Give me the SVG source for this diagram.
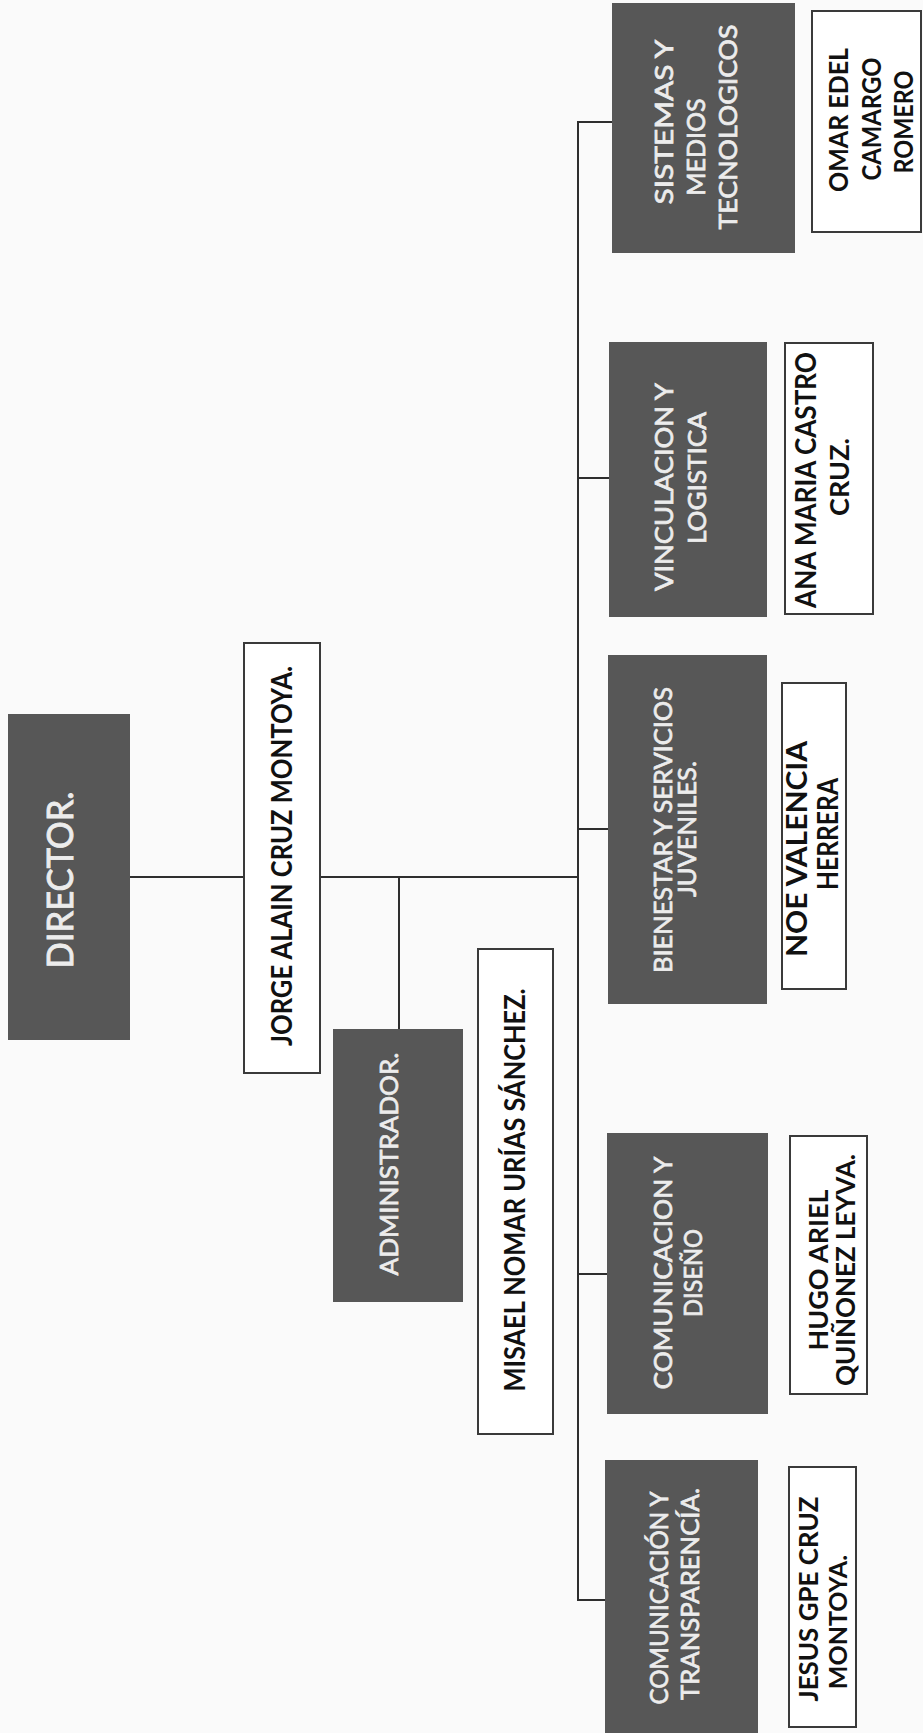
<svg xmlns="http://www.w3.org/2000/svg" width="923" height="1733" viewBox="0 0 923 1733">
<style>
.dark{fill:#575757;}
.white{fill:#ffffff;stroke:#3a3a3a;stroke-width:2;}
.con{fill:none;stroke:#2e2e2e;stroke-width:2;}
.lt{font-family:Lato,"Open Sans","DejaVu Sans",sans-serif;font-size:25px;fill:#ececec;stroke:#ececec;stroke-width:0.7;}
.bt{font-family:Lato,"Open Sans","DejaVu Sans",sans-serif;font-size:28px;font-weight:bold;fill:#111111;}
.mid{text-anchor:middle;}
</style>
<rect x="0" y="0" width="923" height="1733" fill="#fafafa"/>
<g id="connectors">
<path class="con" d="M130 877 H578"/>
<path class="con" d="M399 877 V1029"/>
<path class="con" d="M612 122 H578 V1600 H605"/>
<path class="con" d="M578 478 H609"/>
<path class="con" d="M578 829 H608"/>
<path class="con" d="M578 1274 H607"/>
</g>
<g id="director">
<rect class="dark" x="8" y="714" width="122" height="326"/>
<text class="lt" style="font-size:36px;stroke-width:0.9" transform="translate(73,880) rotate(-90)" x="-88.5" textLength="177" lengthAdjust="spacingAndGlyphs">DIRECTOR.</text>
</g>
<g id="jorge">
<rect class="white" x="244" y="643" width="76" height="430"/>
<text class="bt" transform="translate(292,856) rotate(-90)" x="-190" textLength="380" lengthAdjust="spacingAndGlyphs">JORGE ALAIN CRUZ MONTOYA.</text>
</g>
<g id="administrador">
<rect class="dark" x="333" y="1029" width="130" height="273"/>
<text class="lt" transform="translate(398,1164) rotate(-90)" x="-111.5" textLength="223" lengthAdjust="spacingAndGlyphs">ADMINISTRADOR.</text>
</g>
<g id="misael">
<rect class="white" x="478" y="949" width="75" height="485"/>
<text class="bt" transform="translate(525,1190) rotate(-90)" x="-201.5" textLength="403" lengthAdjust="spacingAndGlyphs">MISAEL NOMAR URÍAS SÁNCHEZ.</text>
</g>
<g id="sistemas">
<rect class="dark" x="612" y="3" width="183" height="250"/>
<text class="lt" transform="translate(673,122) rotate(-90)" x="-82.5" textLength="165" lengthAdjust="spacingAndGlyphs">SISTEMAS Y</text>
<text class="lt mid" transform="translate(705,147) rotate(-90)">MEDIOS</text>
<text class="lt" transform="translate(737,127) rotate(-90)" x="-102.5" textLength="205" lengthAdjust="spacingAndGlyphs">TECNOLOGICOS</text>
</g>
<g id="omar">
<rect class="white" x="812" y="11" width="109" height="221"/>
<text class="bt" style="font-size:27px" transform="translate(848,120) rotate(-90)" x="-72" textLength="144" lengthAdjust="spacingAndGlyphs">OMAR EDEL</text>
<text class="bt" style="font-size:27px" transform="translate(881,119) rotate(-90)" x="-61.5" textLength="123" lengthAdjust="spacingAndGlyphs">CAMARGO</text>
<text class="bt" style="font-size:27px" transform="translate(913,122) rotate(-90)" x="-51.5" textLength="103" lengthAdjust="spacingAndGlyphs">ROMERO</text>
</g>
<g id="vinculacion">
<rect class="dark" x="609" y="342" width="158" height="275"/>
<text class="lt" transform="translate(673,487) rotate(-90)" x="-104" textLength="208" lengthAdjust="spacingAndGlyphs">VINCULACION Y</text>
<text class="lt" transform="translate(706,478) rotate(-90)" x="-66" textLength="132" lengthAdjust="spacingAndGlyphs">LOGISTICA</text>
</g>
<g id="ana">
<rect class="white" x="785" y="343" width="88" height="271"/>
<text class="bt" transform="translate(816,480) rotate(-90)" x="-128" textLength="256" lengthAdjust="spacingAndGlyphs">ANA MARIA CASTRO</text>
<text class="bt mid" style="font-size:27px" transform="translate(849,477) rotate(-90)">CRUZ.</text>
</g>
<g id="bienestar">
<rect class="dark" x="608" y="655" width="159" height="349"/>
<text class="lt" transform="translate(672,830) rotate(-90)" x="-143" textLength="286" lengthAdjust="spacingAndGlyphs">BIENESTAR Y SERVICIOS</text>
<text class="lt" transform="translate(696,829) rotate(-90)" x="-68" textLength="136" lengthAdjust="spacingAndGlyphs">JUVENILES.</text>
</g>
<g id="noe">
<rect class="white" x="782" y="683" width="64" height="306"/>
<text class="bt" transform="translate(807,849) rotate(-90)" x="-108" textLength="216" lengthAdjust="spacingAndGlyphs">NOE VALENCIA</text>
<text class="bt" transform="translate(838,834) rotate(-90)" x="-56" textLength="112" lengthAdjust="spacingAndGlyphs">HERRERA</text>
</g>
<g id="comunicacion-diseno">
<rect class="dark" x="607" y="1133" width="161" height="281"/>
<text class="lt" transform="translate(672,1273) rotate(-90)" x="-116.5" textLength="233" lengthAdjust="spacingAndGlyphs">COMUNICACION Y</text>
<text class="lt" transform="translate(702,1273) rotate(-90)" x="-44" textLength="88" lengthAdjust="spacingAndGlyphs">DISEÑO</text>
</g>
<g id="hugo">
<rect class="white" x="790" y="1136" width="77" height="258"/>
<text class="bt" style="font-size:27px" transform="translate(828,1270) rotate(-90)" x="-80.5" textLength="161" lengthAdjust="spacingAndGlyphs">HUGO ARIEL</text>
<text class="bt" style="font-size:27px" transform="translate(855,1270) rotate(-90)" x="-116" textLength="232" lengthAdjust="spacingAndGlyphs">QUIÑONEZ LEYVA.</text>
</g>
<g id="comunicacion-transparencia">
<rect class="dark" x="605" y="1460" width="153" height="290"/>
<text class="lt" transform="translate(668,1598) rotate(-90)" x="-106.5" textLength="213" lengthAdjust="spacingAndGlyphs">COMUNICACIÓN Y</text>
<text class="lt" transform="translate(699,1594) rotate(-90)" x="-106" textLength="212" lengthAdjust="spacingAndGlyphs">TRANSPARENCÍA.</text>
</g>
<g id="jesus">
<rect class="white" x="789" y="1467" width="67" height="260"/>
<text class="bt" style="font-size:26px" transform="translate(818,1599) rotate(-90)" x="-102.5" textLength="205" lengthAdjust="spacingAndGlyphs">JESUS GPE CRUZ</text>
<text class="bt mid" style="font-size:25px" transform="translate(847,1622) rotate(-90)">MONTOYA.</text>
</g>
</svg>
